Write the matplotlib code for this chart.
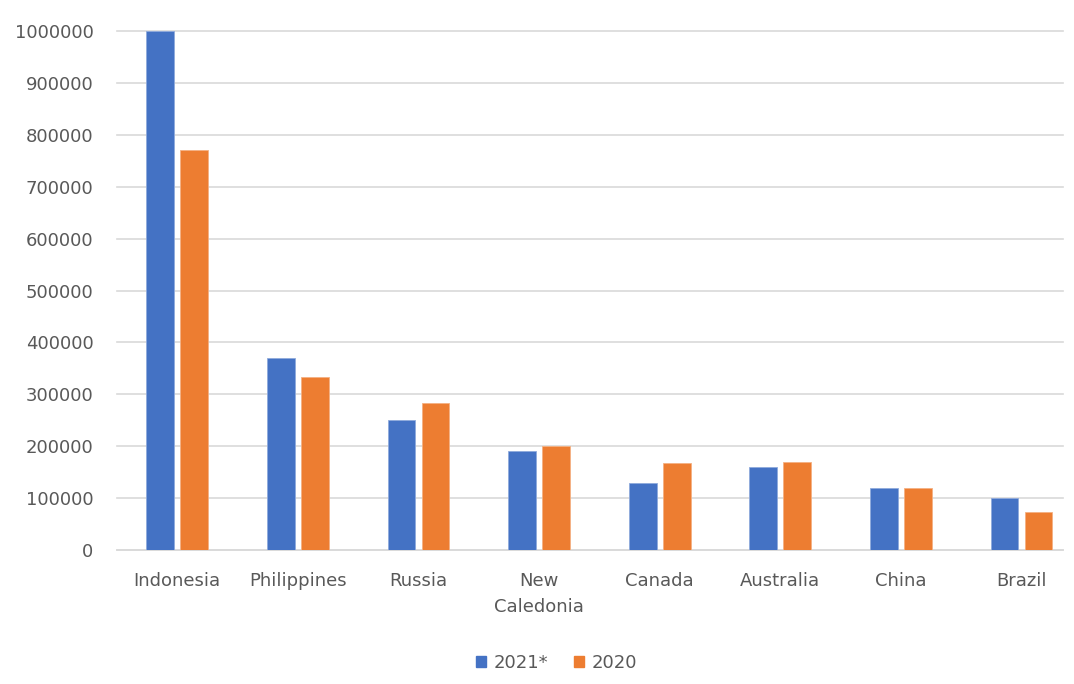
import numpy as np
import matplotlib
matplotlib.use('Agg')
from matplotlib import pyplot as plt
from matplotlib.patches import Patch

countries = ['Indonesia', 'Philippines', 'Russia', 'New\nCaledonia', 'Canada', 'Australia', 'China', 'Brazil']
vals_2021 = [1000000, 370000, 250000, 190000, 130000, 160000, 120000, 100000]
vals_2020 = [771000, 333000, 283000, 200000, 167000, 169000, 120000, 73000]
y_ticks = [0, 100000, 200000, 300000, 400000, 500000, 600000, 700000, 800000, 900000, 1000000]

_blue = '#4472C4'
_orange = '#ED7D31'
_text = '#595959'

plt.rcParams['font.family'] = ['DejaVu Sans']

fig = plt.figure(figsize=(10.74, 6.84), dpi=100)
ax = fig.add_axes([117/1074, 1 - 550/684, 946/1074, 519/684])

x = np.arange(len(countries))
width = 0.232
offset = 0.141
ax.bar(x - offset, vals_2021, width, color=_blue, edgecolor='#8FAADC', linewidth=0.6, zorder=3)
ax.bar(x + offset, vals_2020, width, color=_orange, edgecolor='#F4B183', linewidth=0.6, zorder=3)

ax.set_xlim(-0.5, -0.5 + 946/120.6)
ax.set_ylim(0, 1000000)
ax.set_yticks(y_ticks)
ax.set_yticklabels([str(v) for v in y_ticks])
ax.set_xticks(x)
ax.set_xticklabels(countries, linespacing=1.55)
ax.yaxis.grid(True, color='#D9D9D9', linewidth=1.2, zorder=0, clip_on=False)
ax.tick_params(axis='both', length=0, labelsize=13, labelcolor=_text)
ax.tick_params(axis='x', pad=16)
ax.tick_params(axis='y', pad=17)
for side in ['top', 'right', 'left']:
    ax.spines[side].set_visible(False)
ax.spines['bottom'].set_color('#D9D9D9')
ax.spines['bottom'].set_linewidth(1.2)

handles = [Patch(color=_blue, label='2021*'), Patch(color=_orange, label='2020')]
fig.legend(handles=handles, loc='center', bbox_to_anchor=(0.518, 0.031), ncol=2, frameon=False,
           fontsize=13, labelcolor=_text, handlelength=0.6, handleheight=0.6, handletextpad=0.4,
           columnspacing=1.4)

fig.savefig('out.png', dpi=100)
plt.close()
